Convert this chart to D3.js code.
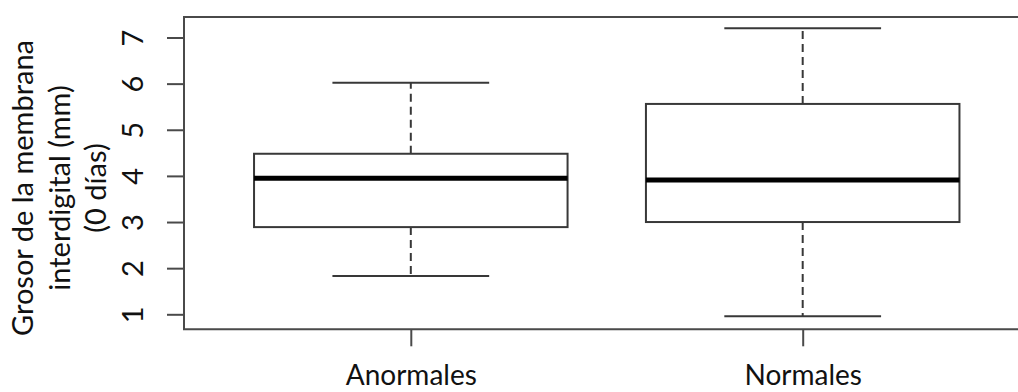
<!DOCTYPE html>
<html>
<head>
<meta charset="utf-8">
<script src="https://cdn.jsdelivr.net/npm/d3@7"></script>
<style>
  html, body { margin: 0; padding: 0; background: #fff; }
  svg { display: block; }
  text { font-family: Lato, "Open Sans", sans-serif; fill: #111; }
</style>
</head>
<body>
<svg id="chart" width="1018" height="392"></svg>
<script>
// ---- data ----
const categories   = ["Anormales", "Normales"];
const whiskerLow   = [1.83, 0.96];
const q1           = [2.89, 3.00];
const medians      = [3.95, 3.91];
const q3           = [4.48, 5.56];
const whiskerHigh  = [6.02, 7.20];
const yTicks       = [1, 2, 3, 4, 5, 6, 7];
const yLabelLines  = ["Grosor de la membrana", "interdigital (mm)", "(0 días)"];

// ---- layout ----
const svg = d3.select("#chart");
const plotTop = 17, plotBottom = 329.3, plotLeft = 184;

const y = d3.scaleLinear().domain([1, 7]).range([314.3, 37.5]);
const x = d3.scaleLinear().domain([0.42, 2.58]).range([183.5, 1030]);

const boxHalf = 0.4, capHalf = 0.2;
const frameColor = "#4a4a4a";
const lineColor = "#383838";

const data = categories.map((c, i) => ({
  name: c, pos: i + 1,
  lo: whiskerLow[i], q1: q1[i], med: medians[i], q3: q3[i], hi: whiskerHigh[i]
}));

// frame (right edge lies outside the picture)
svg.append("path")
  .attr("d", `M1030,${plotTop}H${plotLeft}V${plotBottom}H1030`)
  .attr("fill", "none").attr("stroke", frameColor).attr("stroke-width", 2);

// y axis
const yAxis = svg.append("g").attr("transform", `translate(${plotLeft},0)`)
  .call(d3.axisLeft(y).tickValues(yTicks).tickSize(17).tickPadding(0).tickFormat(d3.format("d")));
yAxis.select(".domain").remove();
yAxis.selectAll(".tick line").attr("stroke", frameColor).attr("stroke-width", 2);
yAxis.selectAll(".tick text")
  .attr("x", null).attr("dy", null)
  .attr("transform", `translate(-41,0) rotate(-90)`)
  .attr("text-anchor", "middle")
  .style("font-size", "29px").style("font-family", "Lato, sans-serif").attr("fill", "#222");

// x axis
const xAxis = svg.append("g").attr("transform", `translate(0,${plotBottom})`)
  .call(d3.axisBottom(x).tickValues(data.map(d => d.pos)).tickSize(17).tickPadding(16)
    .tickFormat((d) => categories[d - 1]));
xAxis.select(".domain").remove();
xAxis.selectAll(".tick line").attr("stroke", frameColor).attr("stroke-width", 2);
xAxis.selectAll(".tick text")
  .attr("dy", null).attr("y", 56)
  .style("font-size", "28px").style("font-family", "Lato, sans-serif").attr("fill", "#111");

// boxes
const g = svg.append("g");
const b = g.selectAll("g.box").data(data).join("g").attr("class", "box");

// whiskers (dashed)
b.append("line")
  .attr("x1", d => x(d.pos)).attr("x2", d => x(d.pos))
  .attr("y1", d => y(d.q3)).attr("y2", d => y(d.hi))
  .attr("stroke", lineColor).attr("stroke-width", 2).attr("stroke-dasharray", "8,5");
b.append("line")
  .attr("x1", d => x(d.pos)).attr("x2", d => x(d.pos))
  .attr("y1", d => y(d.q1)).attr("y2", d => y(d.lo))
  .attr("stroke", lineColor).attr("stroke-width", 2).attr("stroke-dasharray", "8,5");
// caps
b.append("line")
  .attr("x1", d => x(d.pos - capHalf)).attr("x2", d => x(d.pos + capHalf))
  .attr("y1", d => y(d.hi)).attr("y2", d => y(d.hi))
  .attr("stroke", lineColor).attr("stroke-width", 2);
b.append("line")
  .attr("x1", d => x(d.pos - capHalf)).attr("x2", d => x(d.pos + capHalf))
  .attr("y1", d => y(d.lo)).attr("y2", d => y(d.lo))
  .attr("stroke", lineColor).attr("stroke-width", 2);
// box
b.append("rect")
  .attr("x", d => x(d.pos - boxHalf)).attr("width", d => x(d.pos + boxHalf) - x(d.pos - boxHalf))
  .attr("y", d => y(d.q3)).attr("height", d => y(d.q1) - y(d.q3))
  .attr("fill", "#fff").attr("stroke", lineColor).attr("stroke-width", 2);
// median
b.append("line")
  .attr("x1", d => x(d.pos - boxHalf)).attr("x2", d => x(d.pos + boxHalf))
  .attr("y1", d => y(d.med)).attr("y2", d => y(d.med))
  .attr("stroke", "#000").attr("stroke-width", 5);

// y label
const yl = svg.append("g");
const baselines = [33, 69.5, 106];
yLabelLines.forEach((t, i) => {
  yl.append("text")
    .attr("transform", `translate(${baselines[i]},188) rotate(-90)`)
    .attr("text-anchor", "middle")
    .style("font-size", "29px")
    .text(t);
});
</script>
</body>
</html>
